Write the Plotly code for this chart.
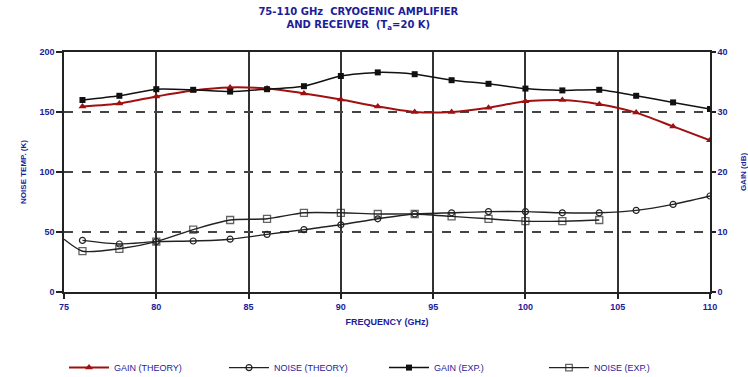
import plotly.graph_objects as go

freq_theory = [76, 78, 80, 82, 84, 86, 88, 90, 92, 94, 96, 98, 100, 102, 104, 106, 108, 110]
gain_theory = [30.9, 31.4, 32.6, 33.6, 34.1, 33.9, 33.1, 32.1, 30.9, 30.0, 30.0, 30.7, 31.8, 32.0, 31.3, 29.9, 27.6, 25.3]
noise_theory = [43, 40, 42, 42.5, 44, 48, 52, 56, 61, 65, 66, 67, 67, 66, 66, 68, 73, 80]

freq_gain_exp = [76, 78, 80, 82, 84, 86, 88, 90, 92, 94, 96, 98, 100, 102, 104, 106, 108, 110]
gain_exp = [32.0, 32.7, 33.8, 33.7, 33.4, 33.8, 34.3, 36.0, 36.6, 36.3, 35.3, 34.7, 33.9, 33.6, 33.7, 32.7, 31.6, 30.5]

freq_noise_exp = [75, 76, 78, 80, 82, 84, 86, 88, 90, 92, 94, 96, 98, 100, 102, 104]
noise_exp = [44, 34, 36, 42, 52, 60, 61, 66, 66, 65, 65, 63, 61, 59, 59, 60]

x_ticks = [75, 80, 85, 90, 95, 100, 105, 110]
noise_ticks = [0, 50, 100, 150, 200]
gain_ticks = [0, 10, 20, 30, 40]

TXT = "#1c1c99"
FONT = "Liberation Sans"

fig = go.Figure()

fig.add_trace(go.Scatter(
    x=freq_theory, y=gain_theory, yaxis="y2", name="GAIN (THEORY)",
    mode="lines+markers", line=dict(color="#a01010", width=2, shape="spline", smoothing=0.6),
    marker=dict(symbol="triangle-up", size=7, color="#a01010")))

fig.add_trace(go.Scatter(
    x=freq_theory, y=noise_theory, name="NOISE (THEORY)",
    mode="lines+markers", line=dict(color="#222222", width=1.4, shape="spline", smoothing=0.6),
    marker=dict(symbol="circle-open", size=6, color="#222222", line=dict(width=1.2))))

fig.add_trace(go.Scatter(
    x=freq_gain_exp, y=gain_exp, yaxis="y2", name="GAIN (EXP.)",
    mode="lines+markers", line=dict(color="#111111", width=1.5, shape="spline", smoothing=0.6),
    marker=dict(symbol="square", size=6, color="#111111")))

noise_exp_sizes = [0] + [7] * (len(noise_exp) - 1)
fig.add_trace(go.Scatter(
    x=freq_noise_exp, y=noise_exp, name="NOISE (EXP.)",
    mode="lines+markers", line=dict(color="#222222", width=1.4, shape="spline", smoothing=0.6),
    marker=dict(symbol="square-open", size=noise_exp_sizes, color="#222222", line=dict(width=1.3))))

fig.update_layout(
    width=748, height=377,
    margin=dict(l=64, r=38, t=52, b=85, autoexpand=False),
    paper_bgcolor="white", plot_bgcolor="white",
    font=dict(family=FONT, size=9, color=TXT),
    title=dict(text="<b>75-110 GHz  CRYOGENIC AMPLIFIER<br>AND RECEIVER  (T<sub>a</sub>=20 K)</b>",
               x=0.479, xanchor="center", y=0.96, yanchor="top",
               font=dict(family="DejaVu Sans", size=10, color=TXT)),
    xaxis=dict(range=[75, 110], tickvals=x_ticks, ticktext=[f"<b>{v}</b>" for v in x_ticks],
               showgrid=True, gridcolor="#333333", gridwidth=1.5,
               showline=True, linecolor="#222222", linewidth=1.5, mirror=True,
               ticks="outside", ticklen=5, tickcolor="#222222", tickwidth=1.5,
               tickfont=dict(size=9),
               title=dict(text="<b>FREQUENCY (GHz)</b>", standoff=8, font=dict(size=9, color=TXT)),
               zeroline=False),
    yaxis=dict(range=[0, 200], tickvals=noise_ticks, ticktext=[f"<b>{v}</b>" for v in noise_ticks],
               showgrid=True, gridcolor="#444444", gridwidth=1.5, griddash="dash",
               showline=True, linecolor="#222222", linewidth=1.5,
               ticks="outside", ticklen=6, tickcolor="#222222", tickwidth=1.5,
               tickfont=dict(size=9),
               title=dict(text="<b>NOISE TEMP. (K)</b>", standoff=12, font=dict(size=8, color=TXT)),
               zeroline=False),
    yaxis2=dict(range=[0, 40], tickvals=gain_ticks, ticktext=[f"<b>{v}</b>" for v in gain_ticks],
                overlaying="y", side="right", showgrid=False,
                showline=True, linecolor="#222222", linewidth=1.5,
                ticks="outside", ticklen=4, tickcolor="#222222", tickwidth=1.5,
                tickfont=dict(size=9),
                title=dict(text="<b>GAIN (dB)</b>", standoff=16, font=dict(size=8, color=TXT)),
                zeroline=False),
    legend=dict(orientation="h", x=0.0, xanchor="left", y=-0.315, yanchor="middle",
                font=dict(family=FONT, size=9, color=TXT), itemwidth=40,
                entrywidth=105, entrywidthmode="pixels", bgcolor="rgba(0,0,0,0)"),
    showlegend=True,
)

fig.write_html("out.html")
